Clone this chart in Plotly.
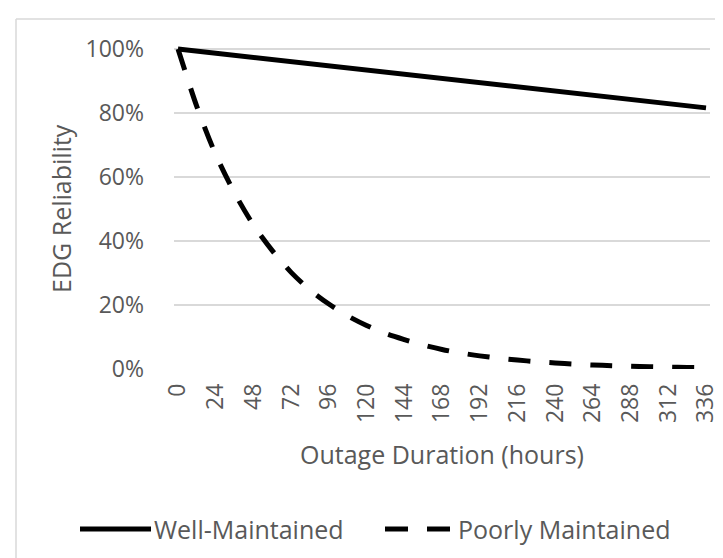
import plotly.graph_objects as go

# ---- data ----
hours_well = [0, 24, 48, 72, 96, 120, 144, 168, 192, 216, 240, 264, 288, 312, 336]
well_maintained = [1.000, 0.987, 0.974, 0.961, 0.947, 0.934, 0.921, 0.908,
                   0.895, 0.882, 0.869, 0.855, 0.842, 0.829, 0.816]

hours_poor = [0, 12, 24, 36, 48, 60, 72, 84, 96, 108, 120, 132, 144, 156, 168,
              180, 192, 204, 216, 228, 240, 252, 264, 276, 288, 300, 312, 324, 336]
poorly_maintained = [1.000, 0.820, 0.670, 0.550, 0.450, 0.370, 0.302, 0.247,
                     0.203, 0.166, 0.136, 0.111, 0.092, 0.075, 0.061, 0.050,
                     0.041, 0.034, 0.028, 0.023, 0.019, 0.0155, 0.0125, 0.0105,
                     0.0085, 0.0070, 0.0057, 0.0047, 0.0038]

x_tick_vals = list(range(0, 337, 24))
x_tick_text = [str(v) for v in x_tick_vals]
y_tick_vals = [0, 0.2, 0.4, 0.6, 0.8, 1.0]
y_tick_text = ["0%", "20%", "40%", "60%", "80%", "100%"]

series_names = ["Well-Maintained", "Poorly Maintained"]
x_title = "Outage Duration (hours)"
y_title = "EDG Reliability"

# ---- layout geometry ----
W, H = 723, 558
ML, MR, MT, MB = 166, 21, 36, 197
PW = W - ML - MR
PH = H - MT - MB
FONT = "Open Sans"
GREY = "#595959"
GRID = "#d9d9d9"


def xp(px):
    return (px - ML) / PW


def yp(py):
    return (H - MB - py) / PH


fig = go.Figure()
fig.add_trace(go.Scatter(
    x=hours_well, y=well_maintained, name=series_names[0], mode="lines",
    line=dict(color="black", width=5), showlegend=False))
fig.add_trace(go.Scatter(
    x=hours_poor, y=poorly_maintained, name=series_names[1], mode="lines",
    line=dict(color="black", width=5, dash="22px,19px", shape="spline", smoothing=0.8),
    showlegend=False))

px_per_h = 528 / 336
fig.update_xaxes(
    range=[-4 / px_per_h, 336 + 4 / px_per_h],
    tickmode="array", tickvals=x_tick_vals, ticktext=x_tick_text,
    tickangle=-90, ticks="", ticklabelstandoff=9,
    tickfont=dict(family=FONT, size=23, color=GREY),
    showgrid=False, zeroline=False, showline=False)
fig.update_yaxes(
    range=[0, 1 + 5 / 320],
    tickmode="array", tickvals=y_tick_vals, ticktext=y_tick_text,
    ticks="", ticklabelstandoff=29,
    tickfont=dict(family=FONT, size=23, color=GREY),
    showgrid=True, gridcolor=GRID, gridwidth=1.5, zeroline=False, showline=False)

shapes = [
    # chart border (left and top edges visible)
    dict(type="line", xref="paper", yref="paper", x0=xp(8), x1=xp(8), y0=yp(11), y1=yp(600),
         line=dict(color=GRID, width=1.5)),
    dict(type="line", xref="paper", yref="paper", x0=xp(8), x1=xp(760), y0=yp(11), y1=yp(11),
         line=dict(color=GRID, width=1.5)),
    # legend symbols
    dict(type="line", xref="paper", yref="paper", x0=xp(72), x1=xp(143), y0=yp(521), y1=yp(521),
         line=dict(color="black", width=5)),
    dict(type="line", xref="paper", yref="paper", x0=xp(377), x1=xp(400), y0=yp(521), y1=yp(521),
         line=dict(color="black", width=5)),
    dict(type="line", xref="paper", yref="paper", x0=xp(419), x1=xp(442), y0=yp(521), y1=yp(521),
         line=dict(color="black", width=5)),
]

annotations = [
    dict(text=y_title, xref="paper", yref="paper", x=xp(53), y=yp(201), textangle=-90,
         showarrow=False, xanchor="center", yanchor="middle",
         font=dict(family=FONT, size=25, color=GREY)),
    dict(text=x_title, xref="paper", yref="paper", x=xp(434), y=yp(446),
         showarrow=False, xanchor="center", yanchor="middle",
         font=dict(family=FONT, size=25, color=GREY)),
    dict(text=series_names[0], xref="paper", yref="paper", x=xp(144), y=yp(521),
         showarrow=False, xanchor="left", yanchor="middle",
         font=dict(family=FONT, size=25, color=GREY)),
    dict(text=series_names[1], xref="paper", yref="paper", x=xp(448), y=yp(521),
         showarrow=False, xanchor="left", yanchor="middle",
         font=dict(family=FONT, size=25, color=GREY)),
]

fig.update_layout(
    width=W, height=H, autosize=False,
    margin=dict(l=ML, r=MR, t=MT, b=MB, pad=0),
    paper_bgcolor="white", plot_bgcolor="white",
    showlegend=False, shapes=shapes, annotations=annotations,
    font=dict(family=FONT, color=GREY))

fig.write_html("out.html")
